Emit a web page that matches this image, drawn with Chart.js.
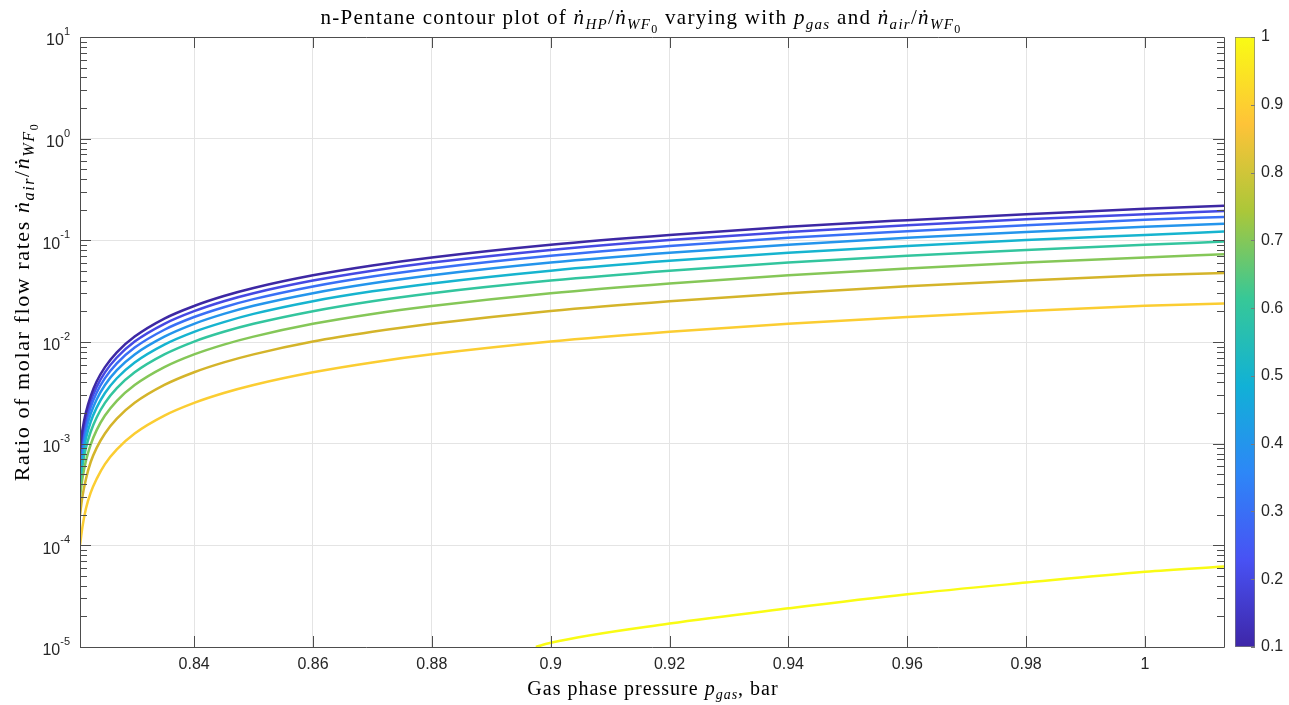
<!DOCTYPE html>
<html>
<head>
<meta charset="utf-8">
<script src="https://cdn.jsdelivr.net/npm/chart.js@4.4.1/dist/chart.umd.min.js"></script>
<style>
  html, body { margin: 0; padding: 0; background: #fff; }
  #wrap { position: relative; width: 1289px; height: 705px; }
  #main { position: absolute; left: 0; top: 0; }
  #cbar { position: absolute; left: 1225px; top: 0; }
</style>
</head>
<body>
<div id="wrap">
  <canvas id="main" width="1289" height="705"></canvas>
  <canvas id="cbar" width="64" height="705"></canvas>
</div>
<script>
// gas phase pressure (bar) where the contour lines were read
var pressure = [0.8208, 0.8212, 0.8218, 0.8226, 0.8236, 0.825, 0.827, 0.83, 0.835, 0.84, 0.845,
                0.85, 0.86, 0.87, 0.88, 0.9, 0.92, 0.94, 0.96, 0.98, 1.0, 1.0133]

// n_air/n_WF0 for each contour level of n_HP/n_WF0
var level_01 = [0.00091, 0.00136, 0.00204, 0.00294, 0.00408, 0.00566, 0.00792, 0.0113, 0.0170, 0.0226, 0.0283,
                0.0340, 0.0453, 0.0566, 0.0679, 0.0906, 0.113, 0.136, 0.158, 0.181, 0.204, 0.219]
var level_02 = [0.00080, 0.00121, 0.00181, 0.00262, 0.00362, 0.00503, 0.00704, 0.0101, 0.0151, 0.0201, 0.0252,
                0.0302, 0.0402, 0.0503, 0.0604, 0.0805, 0.101, 0.121, 0.141, 0.161, 0.181, 0.194]
var level_03 = [0.00070, 0.00106, 0.00159, 0.00229, 0.00317, 0.00441, 0.00617, 0.00881, 0.0132, 0.0176, 0.0220,
                0.0264, 0.0352, 0.0441, 0.0529, 0.0705, 0.0881, 0.106, 0.123, 0.141, 0.159, 0.170]
var level_04 = [0.00060, 0.00091, 0.00136, 0.00196, 0.00272, 0.00378, 0.00529, 0.00755, 0.0113, 0.0151, 0.0189,
                0.0227, 0.0302, 0.0378, 0.0453, 0.0604, 0.0755, 0.0906, 0.106, 0.121, 0.136, 0.146]
var level_05 = [0.00050, 0.00075, 0.00113, 0.00164, 0.00226, 0.00315, 0.00440, 0.00629, 0.00944, 0.0126, 0.0157,
                0.0189, 0.0252, 0.0315, 0.0377, 0.0503, 0.0629, 0.0755, 0.0881, 0.101, 0.113, 0.122]
var level_06 = [0.00040, 0.00060, 0.00091, 0.00131, 0.00181, 0.00252, 0.00352, 0.00503, 0.00755, 0.0101, 0.0126,
                0.0151, 0.0201, 0.0252, 0.0302, 0.0402, 0.0503, 0.0604, 0.0704, 0.0805, 0.0905, 0.0972]
var level_07 = [0.00030, 0.00045, 0.00068, 0.00098, 0.00136, 0.00189, 0.00264, 0.00377, 0.00566, 0.00755, 0.00943,
                0.0113, 0.0151, 0.0189, 0.0226, 0.0302, 0.0377, 0.0453, 0.0528, 0.0604, 0.0679, 0.0729]
var level_08 = [0.00020, 0.00030, 0.00045, 0.00066, 0.00091, 0.00126, 0.00176, 0.00252, 0.00378, 0.00504, 0.00630,
                0.00756, 0.0101, 0.0126, 0.0151, 0.0202, 0.0252, 0.0302, 0.0353, 0.0403, 0.0454, 0.0477]
var level_09 = [0.00010, 0.00015, 0.00023, 0.00033, 0.00045, 0.00063, 0.00088, 0.00126, 0.00189, 0.00252, 0.00315,
                0.00378, 0.00504, 0.0063, 0.00756, 0.0101, 0.0126, 0.0151, 0.0176, 0.0202, 0.0227, 0.0239]

// the level 1 contour only shows near the bottom
var pressure_10 = [0.8975, 0.9, 0.92, 0.94, 0.96, 0.98, 1.0, 1.0133]
var level_10 = [1.0e-5, 1.1e-5, 1.7e-5, 2.4e-5, 3.3e-5, 4.3e-5, 5.5e-5, 6.2e-5]

var levels = [0.1, 0.2, 0.3, 0.4, 0.5, 0.6, 0.7, 0.8, 0.9, 1.0]
var level_colors = ['#3d28a4', '#4549e3', '#3970f6', '#2495ec', '#16b4cf',
                    '#33c59e', '#85c758', '#d4b42a', '#fbcd32', '#f9fb14']

var x_ticks = [0.84, 0.86, 0.88, 0.9, 0.92, 0.94, 0.96, 0.98, 1]
var y_ticks = [1e-5, 1e-4, 1e-3, 1e-2, 1e-1, 1, 10]
var cbar_ticks = [0.1, 0.2, 0.3, 0.4, 0.5, 0.6, 0.7, 0.8, 0.9, 1]

// parula(8)
var parula = ['#3e26a8', '#4852f4', '#2d87f7', '#11b1d6', '#37c897', '#abc739', '#fec338', '#f9fb14']

var serif = '"Liberation Serif", "DejaVu Serif", serif'
var sans = '"Liberation Sans", Arial, sans-serif'

var series = [level_01, level_02, level_03, level_04, level_05, level_06, level_07, level_08, level_09]

var datasets = []
series.forEach(function (vals, i) {
  datasets.push({
    label: String(levels[i]),
    data: pressure.map(function (p, j) { return { x: p, y: vals[j] } }),
    borderColor: level_colors[i]
  })
})
datasets.push({
  label: '1',
  data: pressure_10.map(function (p, j) { return { x: p, y: level_10[j] } }),
  borderColor: level_colors[9]
})

// text with sub/subsub scripts, LaTeX-ish
function richText(ctx, parts, x, y, size, ls) {
  function font(st) {
    if (st == 'r') return size + 'px ' + serif
    if (st == 'i') return 'italic ' + size + 'px ' + serif
    if (st == 'si') return 'italic ' + Math.round(size * 0.72) + 'px ' + serif
    if (st == 'ssr') return Math.round(size * 0.55) + 'px ' + serif
  }
  function dy(st) {
    if (st == 'si') return size * 0.22
    if (st == 'ssr') return size * 0.42
    return 0
  }
  function adv(p) {
    ctx.font = font(p[1])
    var w = 0
    for (var k = 0; k < p[0].length; k++) w += ctx.measureText(p[0][k]).width + ls
    return w
  }
  var total = 0
  parts.forEach(function (p) { total += adv(p) })
  var cx = x - total / 2
  ctx.textAlign = 'left'
  ctx.textBaseline = 'alphabetic'
  parts.forEach(function (p) {
    ctx.font = font(p[1])
    for (var k = 0; k < p[0].length; k++) {
      ctx.fillText(p[0][k], cx, y + dy(p[1]))
      cx += ctx.measureText(p[0][k]).width + ls
    }
  })
}

var title_parts = [['n-Pentane contour plot of ', 'r'], ['ṅ', 'i'], ['HP', 'si'], ['/', 'r'], ['ṅ', 'i'],
  ['WF', 'si'], ['0', 'ssr'], [' varying with ', 'r'], ['p', 'i'], ['gas', 'si'], [' and ', 'r'],
  ['ṅ', 'i'], ['air', 'si'], ['/', 'r'], ['ṅ', 'i'], ['WF', 'si'], ['0', 'ssr']]
var xlabel_parts = [['Gas phase pressure ', 'r'], ['p', 'i'], ['gas', 'si'], [', bar', 'r']]
var ylabel_parts = [['Ratio of molar flow rates ', 'r'], ['ṅ', 'i'], ['air', 'si'], ['/', 'r'],
  ['ṅ', 'i'], ['WF', 'si'], ['0', 'ssr']]

var matlabAxes = {
  id: 'matlabAxes',
  afterDraw: function (chart) {
    var ctx = chart.ctx
    var a = chart.chartArea
    var xs = chart.scales.x, ys = chart.scales.y
    ctx.save()
    ctx.strokeStyle = '#4d4d4d'
    ctx.lineWidth = 1
    ctx.beginPath()
    ctx.rect(Math.round(a.left) + 0.5, Math.round(a.top) + 0.5, Math.round(a.right - a.left), Math.round(a.bottom - a.top))
    ctx.stroke()

    // ticks pointing inward
    ctx.beginPath()
    x_ticks.forEach(function (v) {
      var px = Math.round(xs.getPixelForValue(v)) + 0.5
      ctx.moveTo(px, a.bottom); ctx.lineTo(px, a.bottom - 11)
      ctx.moveTo(px, a.top); ctx.lineTo(px, a.top + 11)
    })
    for (var e = -5; e <= 0; e++) {
      for (var m = 1; m <= 9; m++) {
        var v = m * Math.pow(10, e)
        var py = Math.round(ys.getPixelForValue(v)) + 0.5
        var len = m == 1 ? 11 : 7
        ctx.moveTo(a.left, py); ctx.lineTo(a.left + len, py)
        ctx.moveTo(a.right, py); ctx.lineTo(a.right - len, py)
      }
    }
    ctx.stroke()

    // tick labels
    ctx.fillStyle = '#262626'
    ctx.font = '16px ' + sans
    ctx.textAlign = 'center'
    ctx.textBaseline = 'top'
    x_ticks.forEach(function (v) {
      ctx.fillText(String(v), xs.getPixelForValue(v), a.bottom + 10)
    })
    y_ticks.forEach(function (v) {
      var py = ys.getPixelForValue(v)
      var ex = String(Math.round(Math.log10(v)))
      ctx.font = '11px ' + sans
      var ew = ctx.measureText(ex).width
      ctx.textAlign = 'left'
      ctx.textBaseline = 'middle'
      ctx.fillText(ex, a.left - 10 - ew, py - 5)
      ctx.font = '16px ' + sans
      ctx.textAlign = 'right'
      ctx.fillText('10', a.left - 10 - ew, py + 4)
    })

    // title and axis labels
    ctx.fillStyle = '#000'
    richText(ctx, title_parts, 641, 24, 21, 1.3)
    richText(ctx, xlabel_parts, 653, 695, 20, 1.0)
    ctx.translate(29, 302)
    ctx.rotate(-Math.PI / 2)
    richText(ctx, ylabel_parts, 0, 0, 22, 1.6)
    ctx.restore()
  }
}

new Chart(document.getElementById('main'), {
  type: 'line',
  data: { datasets: datasets },
  options: {
    responsive: false,
    animation: false,
    layout: { padding: { left: 80, right: 65, top: 37, bottom: 58 } },
    plugins: { legend: { display: false }, tooltip: { enabled: false } },
    elements: { point: { radius: 0 }, line: { borderWidth: 2.5, cubicInterpolationMode: 'monotone' } },
    scales: {
      x: {
        type: 'linear', min: 0.8208, max: 1.0133,
        afterBuildTicks: function (s) { s.ticks = x_ticks.map(function (v) { return { value: v } }) },
        afterFit: function (s) { s.height = 0 },
        ticks: { display: false },
        grid: { color: '#e4e4e4', drawTicks: false },
        border: { display: false }
      },
      y: {
        type: 'logarithmic', min: 1e-5, max: 10,
        afterBuildTicks: function (s) { s.ticks = y_ticks.map(function (v) { return { value: v } }) },
        afterFit: function (s) { s.width = 0 },
        ticks: { display: false },
        grid: { color: '#e4e4e4', drawTicks: false },
        border: { display: false }
      }
    }
  },
  plugins: [matlabAxes]
})

var cbarTicks = {
  id: 'cbarTicks',
  afterDraw: function (chart) {
    var ctx = chart.ctx, a = chart.chartArea, ys = chart.scales.y
    ctx.save()
    ctx.strokeStyle = '#7a7a7a'
    ctx.lineWidth = 1
    ctx.beginPath()
    cbar_ticks.forEach(function (v) {
      var py = Math.round(ys.getPixelForValue(v)) + 0.5
      ctx.moveTo(a.right, py); ctx.lineTo(a.right - 4, py)
    })
    ctx.stroke()
    ctx.restore()
  }
}

new Chart(document.getElementById('cbar'), {
  type: 'bar',
  data: {
    labels: ['n_HP'],
    datasets: [{
      data: [[0.1, 1]],
      barPercentage: 1,
      categoryPercentage: 1,
      borderWidth: 1,
      borderColor: '#7a7a7a',
      borderSkipped: false,
      backgroundColor: function (c) {
        var area = c.chart.chartArea
        if (!area) return parula[0]
        var g = c.chart.ctx.createLinearGradient(0, area.bottom, 0, area.top)
        parula.forEach(function (col, i) { g.addColorStop(i / (parula.length - 1), col) })
        return g
      }
    }]
  },
  options: {
    responsive: false,
    animation: false,
    layout: { padding: { left: 10, right: 0, top: 37, bottom: 58 } },
    plugins: { legend: { display: false }, tooltip: { enabled: false } },
    scales: {
      x: { display: false },
      y: {
        position: 'right', min: 0.1, max: 1,
        afterBuildTicks: function (s) { s.ticks = cbar_ticks.map(function (v) { return { value: v } }) },
        afterFit: function (s) { s.width = 34 },
        ticks: {
          padding: 6, color: '#262626', font: { size: 16, family: sans },
          callback: function (v) { return String(+v.toFixed(1)) }
        },
        grid: { display: false, drawTicks: false },
        border: { display: false }
      }
    }
  },
  plugins: [cbarTicks]
})
</script>
</body>
</html>
